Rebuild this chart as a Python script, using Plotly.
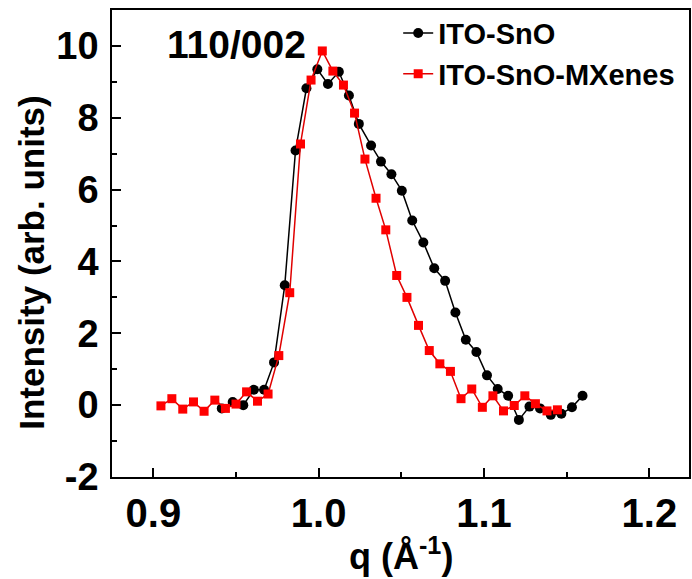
import plotly.graph_objects as go

# Scattering vector q (1/Å) and intensity for the bare ITO-SnO film
q_sno = [0.9414, 0.9480, 0.9544, 0.9608, 0.9670, 0.9730, 0.9795, 0.9860, 0.9926,
         0.9992, 1.0056, 1.0122, 1.0183, 1.0243, 1.0317, 1.0377, 1.0440, 1.0503,
         1.0566, 1.0633, 1.0699, 1.0765, 1.0827, 1.0890, 1.0954, 1.1018, 1.1083,
         1.1146, 1.1211, 1.1275, 1.1339, 1.1404, 1.1468, 1.1532, 1.1596]
i_sno = [-0.09, 0.09, 0.00, 0.43, 0.43, 1.19, 3.34, 7.09, 8.82,
         9.35, 8.94, 9.28, 8.62, 7.83, 7.23, 6.78, 6.43, 5.97,
         5.14, 4.53, 3.81, 3.46, 2.58, 1.82, 1.48, 0.83, 0.45,
         0.26, -0.41, -0.04, -0.09, -0.27, -0.24, -0.06, 0.26]

# Same reflection for the MXene-modified film
q_mx = [0.9046, 0.9112, 0.9178, 0.9243, 0.9307, 0.9372, 0.9436, 0.9500, 0.9564,
        0.9630, 0.9694, 0.9759, 0.9825, 0.9890, 0.9954, 1.0022, 1.0086, 1.0150,
        1.0217, 1.0280, 1.0347, 1.0406, 1.0472, 1.0534, 1.0604, 1.0669, 1.0733,
        1.0797, 1.0861, 1.0926, 1.0990, 1.1054, 1.1118, 1.1183, 1.1247, 1.1311,
        1.1381, 1.1444]
i_mx = [-0.02, 0.18, -0.11, 0.09, -0.17, 0.14, -0.09, 0.03, 0.37,
        0.11, 0.31, 1.38, 3.13, 7.27, 9.05, 9.86, 9.30, 8.91,
        8.13, 6.85, 5.76, 4.88, 3.61, 3.00, 2.22, 1.52, 1.15,
        0.94, 0.18, 0.45, -0.06, 0.26, -0.16, -0.01, 0.26, 0.04,
        -0.16, -0.13]

series_names = ["ITO-SnO", "ITO-SnO-MXenes"]
x_ticks = [0.9, 1.0, 1.1, 1.2]
x_tick_text = ["0.9", "1.0", "1.1", "1.2"]
y_ticks = [-2, 0, 2, 4, 6, 8, 10]
y_tick_text = ["-2", "0", "2", "4", "6", "8", "10"]
peak_label = "110/002"

BOLD = "Liberation Sans"

fig = go.Figure()
fig.add_trace(go.Scatter(
    x=q_sno, y=i_sno, mode="lines+markers", name=series_names[0],
    line=dict(color="black", width=1.5),
    marker=dict(symbol="circle", size=10, color="black"),
))
fig.add_trace(go.Scatter(
    x=q_mx, y=i_mx, mode="lines+markers", name=series_names[1],
    line=dict(color="#e00000", width=1.5),
    marker=dict(symbol="square", size=9, color="#ff0000"),
))

axis_common = dict(
    showline=True, linecolor="black", linewidth=1.5, mirror=True,
    ticks="inside", ticklen=9, tickwidth=1.5, tickcolor="black",
    showgrid=False, zeroline=False,
)

fig.update_xaxes(
    range=[0.875, 1.224], tickvals=x_ticks, ticktext=x_tick_text,
    tickfont=dict(family=BOLD, size=40, color="black", weight="bold"),
    minor=dict(ticks="inside", ticklen=5, tickwidth=1.5, dtick=0.05, tickcolor="black"),
    **axis_common,
)
fig.update_yaxes(
    range=[-2, 11], tickvals=y_ticks, ticktext=y_tick_text,
    tickfont=dict(family=BOLD, size=38, color="black", weight="bold"),
    ticklabelstandoff=4,
    minor=dict(ticks="inside", ticklen=5, tickwidth=1.5, dtick=1, tickcolor="black"),
    **axis_common,
)

fig.add_annotation(
    text="<b>Intensity (arb. units)</b>", textangle=-90,
    xref="paper", yref="paper", x=-0.141, y=0.458,
    xanchor="center", yanchor="middle", showarrow=False,
    font=dict(family=BOLD, size=35, color="black"),
)
fig.add_annotation(
    text="<b>q (Å<sup>-1</sup>)</b>",
    xref="paper", yref="paper", x=0.5, y=-0.112,
    xanchor="center", yanchor="top", showarrow=False,
    font=dict(family=BOLD, size=36, color="black"),
)
fig.add_annotation(
    text=f"<b>{peak_label}</b>",
    xref="x", yref="y", x=0.95, y=10.04,
    xanchor="center", yanchor="middle", showarrow=False,
    font=dict(family=BOLD, size=39, color="black"),
)

fig.update_layout(
    width=692, height=579,
    margin=dict(l=112, r=1, t=10, b=102),
    paper_bgcolor="white", plot_bgcolor="white",
    legend=dict(
        x=0.496, y=1.005, xanchor="left", yanchor="top",
        font=dict(family=BOLD, size=29, color="black", weight="bold"),
        bgcolor="rgba(0,0,0,0)", borderwidth=0,
        tracegroupgap=0, itemwidth=30,
    ),
    font=dict(family=BOLD, color="black"),
)

fig.write_html("out.html")
